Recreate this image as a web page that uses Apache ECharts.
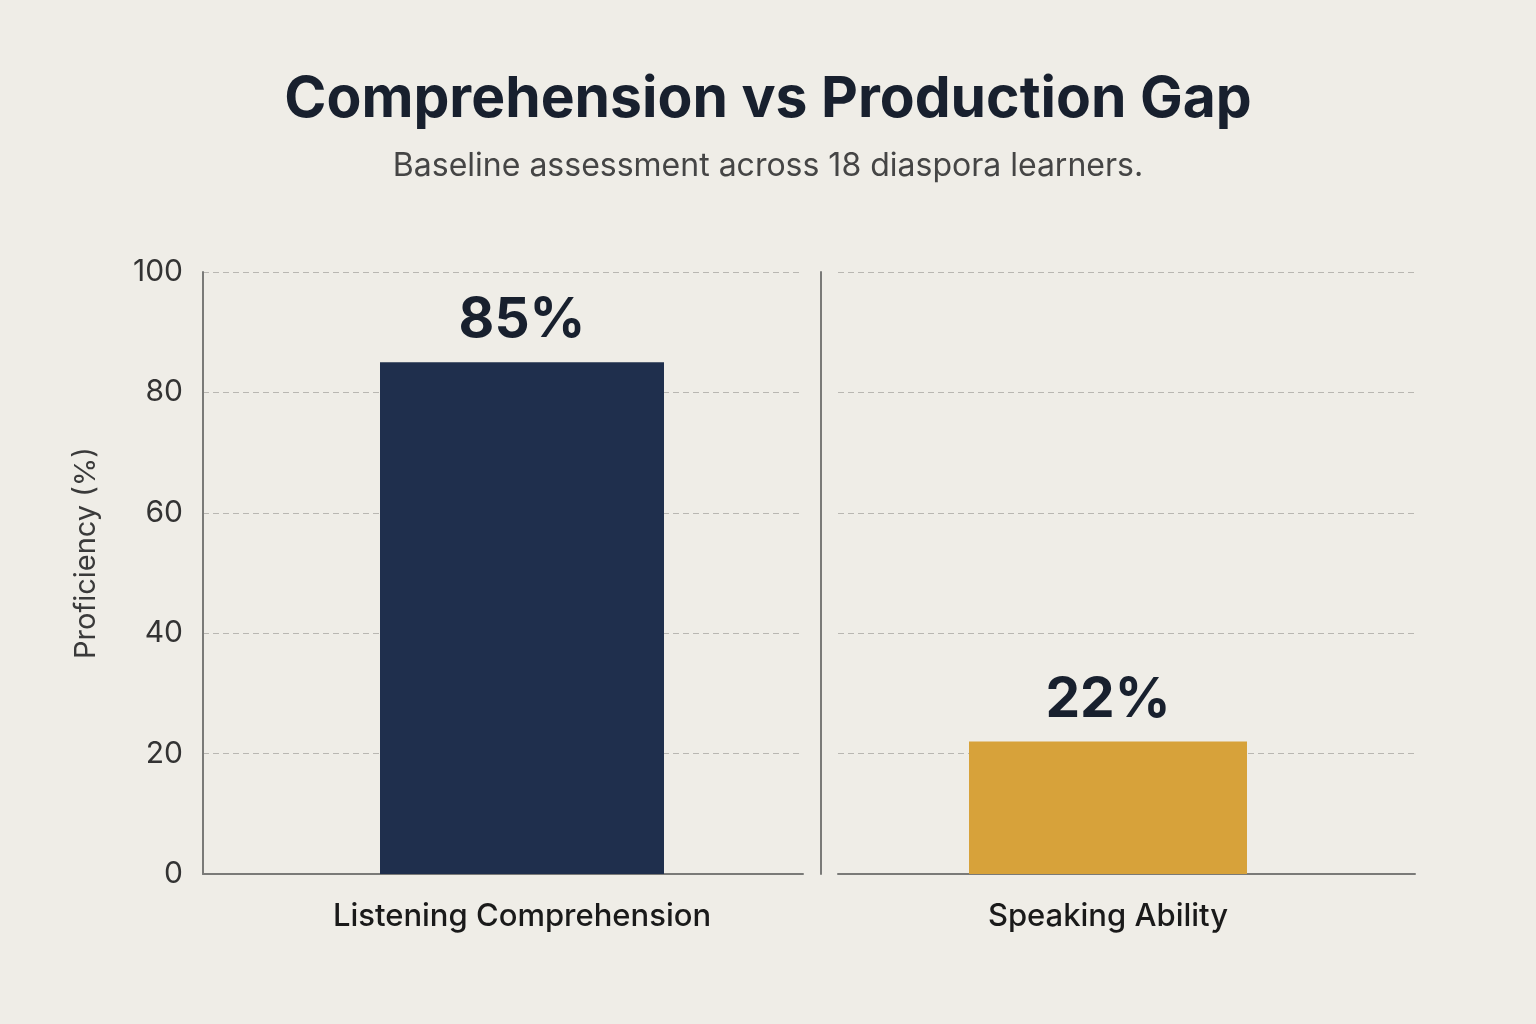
<!DOCTYPE html>
<html>
<head>
<meta charset="utf-8">
<script src="https://cdn.jsdelivr.net/npm/echarts@6/dist/echarts.min.js"></script>
<style>
  html, body { margin: 0; padding: 0; background: #efede7; }
  #chart { width: 1536px; height: 1024px; }
</style>
</head>
<body>
<div id="chart"></div>
<script>
// data
var categories = ['Listening Comprehension', 'Speaking Ability'];
var proficiency = [85, 22];
var barColors = ['#1f2f4d', '#d7a23a'];
var yTicks = { min: 0, max: 100, interval: 20 };

var chart = echarts.init(document.getElementById('chart'));

var axisGray = '#7a7a78';
var gridDash = '#b9b7b2';
var font = 'Inter, "Noto Sans", sans-serif';

// two panels: one grid draws the axes, an overlapping one holds the bar + label
var grids = [
    { left: 203, right: 733, top: 272, bottom: 150 },   // left axes
    { left: 241, right: 733, top: 272, bottom: 150 },   // left bar
    { left: 838, right: 121, top: 272, bottom: 150 },   // right axes
    { left: 838, right: 158, top: 272, bottom: 150 }    // right bar
];

function yAxisFor(idx, opts) {
    return Object.assign({
        type: 'value',
        gridIndex: idx,
        min: yTicks.min,
        max: yTicks.max,
        interval: yTicks.interval,
        axisLine: { show: false },
        axisTick: { show: false },
        axisLabel: { show: false },
        splitLine: { show: false }
    }, opts || {});
}

var option = {
    backgroundColor: '#efede7',
    title: {
        text: 'Comprehension vs Production Gap',
        subtext: 'Baseline assessment across 18 diaspora learners.',
        left: 'center',
        top: 66,
        itemGap: 22,
        textStyle: { fontFamily: font, fontSize: 57, fontWeight: 'bold', color: '#18202e' },
        subtextStyle: { fontFamily: font, fontSize: 32, color: '#454545' }
    },
    grid: grids,
    xAxis: [
        {
            type: 'category', gridIndex: 0, data: [''],
            axisLine: { show: true, lineStyle: { color: axisGray, width: 2 } },
            axisTick: { show: false }, axisLabel: { show: false }
        },
        {
            type: 'category', gridIndex: 1, data: [categories[0]],
            axisLine: { show: false }, axisTick: { show: false },
            axisLabel: { margin: 27, fontFamily: font, fontSize: 31, fontWeight: 500, color: '#1a1a1a' }
        },
        {
            type: 'category', gridIndex: 2, data: [''],
            axisLine: { show: true, lineStyle: { color: axisGray, width: 2 } },
            axisTick: { show: false }, axisLabel: { show: false }
        },
        {
            type: 'category', gridIndex: 3, data: [categories[1]],
            axisLine: { show: false }, axisTick: { show: false },
            axisLabel: { margin: 27, fontFamily: font, fontSize: 31, fontWeight: 500, color: '#1a1a1a' }
        }
    ],
    yAxis: [
        yAxisFor(0, {
            name: 'Proficiency (%)',
            nameLocation: 'middle',
            nameGap: 102,
            nameTextStyle: { fontFamily: font, fontSize: 29, color: '#3a3a3a', padding: [0, 0, 0, 40] },
            axisLine: { show: true, lineStyle: { color: axisGray, width: 2 } },
            axisLabel: { show: true, margin: 20, fontFamily: font, fontSize: 30, color: '#333' },
            splitLine: { show: true, lineStyle: { color: gridDash, type: [6, 4], width: 1.2 } }
        }),
        yAxisFor(1),
        yAxisFor(2, {
            offset: 17,
            axisLine: { show: true, lineStyle: { color: axisGray, width: 2 } },
            splitLine: { show: true, lineStyle: { color: gridDash, type: [6, 4], width: 1.2 } }
        }),
        yAxisFor(3)
    ],
    series: categories.map(function (name, i) {
        var axisIdx = i === 0 ? 1 : 3;
        return {
            type: 'bar',
            name: name,
            xAxisIndex: axisIdx,
            yAxisIndex: axisIdx,
            barWidth: i === 0 ? 284 : 278,
            data: [proficiency[i]],
            itemStyle: { color: barColors[i] },
            label: {
                show: true,
                position: 'top',
                distance: 14,
                formatter: '{c}%',
                fontFamily: font,
                fontSize: 55,
                fontWeight: 'bold',
                color: '#18202e'
            }
        };
    })
};

chart.setOption(option);
</script>
</body>
</html>
